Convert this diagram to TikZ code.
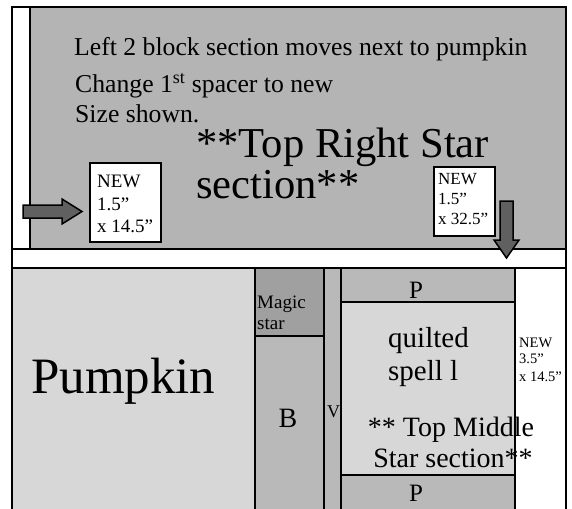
\documentclass[tikz,border=0pt]{standalone}
\usepackage{fontspec}
\setmainfont{Liberation Serif}
\definecolor{topgray}{HTML}{B4B4B4}
\definecolor{lightgray}{HTML}{D7D7D7}
\definecolor{midgray}{HTML}{B9B9B9}
\definecolor{darkgray}{HTML}{A0A0A0}
\definecolor{arrowgray}{HTML}{606060}
\tikzset{
  blk/.style={draw=black, line width=1.8pt},
  txt/.style={inner sep=0pt, anchor=base west, text=black},
  ctxt/.style={inner sep=0pt, anchor=base, text=black},
  fs/.style={font=\fontsize{#1}{#1}\selectfont},
}
\begin{document}
\begin{tikzpicture}[x=1pt,y=-1pt]
\useasboundingbox (0,0) rectangle (572,508);
\clip (0,0) rectangle (572,508);
\fill[white] (0,0) rectangle (572,508);
% top section
\draw[blk, fill=white] (12,7) rectangle (30,249);
\draw[blk, fill=topgray] (30,7) rectangle (566,249);
\draw[blk, fill=white] (12,249) rectangle (566,268);
% bottom section
\draw[blk, fill=lightgray] (12,268) rectangle (255,530);
\draw[blk, fill=darkgray] (255,268) rectangle (324,336);
\draw[blk, fill=midgray] (255,336) rectangle (324,530);
\draw[blk, fill=midgray] (324,268) rectangle (341,530);
\draw[blk, fill=midgray] (341,268) rectangle (515,302);
\draw[blk, fill=lightgray] (341,302) rectangle (515,475);
\draw[blk, fill=midgray] (341,475) rectangle (515,530);
\draw[blk, fill=white] (515,268) rectangle (566,530);
% NEW boxes
\draw[blk, fill=white] (90,163) rectangle (161,242);
\draw[blk, fill=white] (434,167) rectangle (495,236);
% block arrows
\draw[fill=arrowgray, draw=black, line width=1.5pt, line join=miter]
  (23,205) -- (62,205) -- (62,199) -- (82,211.5) -- (62,224) -- (62,218) -- (23,218) -- cycle;
\draw[fill=arrowgray, draw=black, line width=1.5pt, line join=miter]
  (500,201) -- (513,201) -- (513,240) -- (519,240) -- (506.5,258) -- (494,240) -- (500,240) -- cycle;
% top texts
\node[txt, fs=25.7] (l1) at (74,56) {Left 2 block section moves next to pumpkin};
\node[txt, fs=25.7] (l2) at (75,93) {Change 1\textsuperscript{st} spacer to new};
\node[txt, fs=25.7] (l3) at (75,122) {Size shown.};
\node[txt, fs=42.6] (t1) at (196,157) {**Top Right Star};
\node[txt, fs=42.6] (t2) at (196,198) {section**};
\node[txt, fs=19] (a1) at (97,187) {NEW};
\node[txt, fs=19] (a2) at (97,210) {1.5”};
\node[txt, fs=19] (a3) at (97,232) {x 14.5”};
\node[txt, fs=17] (b1) at (438,184) {NEW};
\node[txt, fs=17] (b2) at (438,204) {1.5”};
\node[txt, fs=17] (b3) at (438,224) {x 32.5”};
% bottom texts
\node[txt, fs=51] (pump) at (31,393) {Pumpkin};
\node[txt, fs=19] (m1) at (257,308) {Magic};
\node[txt, fs=19] (m2) at (257,329) {star};
\node[ctxt, fs=28] (bb) at (288,427) {B};
\node[txt, fs=18] (vv) at (327,417) {V};
\node[ctxt, fs=25] (p1) at (416,298) {P};
\node[txt, fs=29] (q1) at (388,347) {quilted};
\node[txt, fs=29] (q2) at (388,380) {spell l};
\node[ctxt, fs=28] (s1) at (451,436) {** Top Middle};
\node[ctxt, fs=28] (s2) at (453,467) {Star section**};
\node[txt, fs=14.5] (c1) at (519,347) {NEW};
\node[txt, fs=14.5] (c2) at (519,363) {3.5”};
\node[txt, fs=14.5] (c3) at (519,381) {x 14.5”};
\node[ctxt, fs=25] (p2) at (416,501) {P};
\end{tikzpicture}
\end{document}
